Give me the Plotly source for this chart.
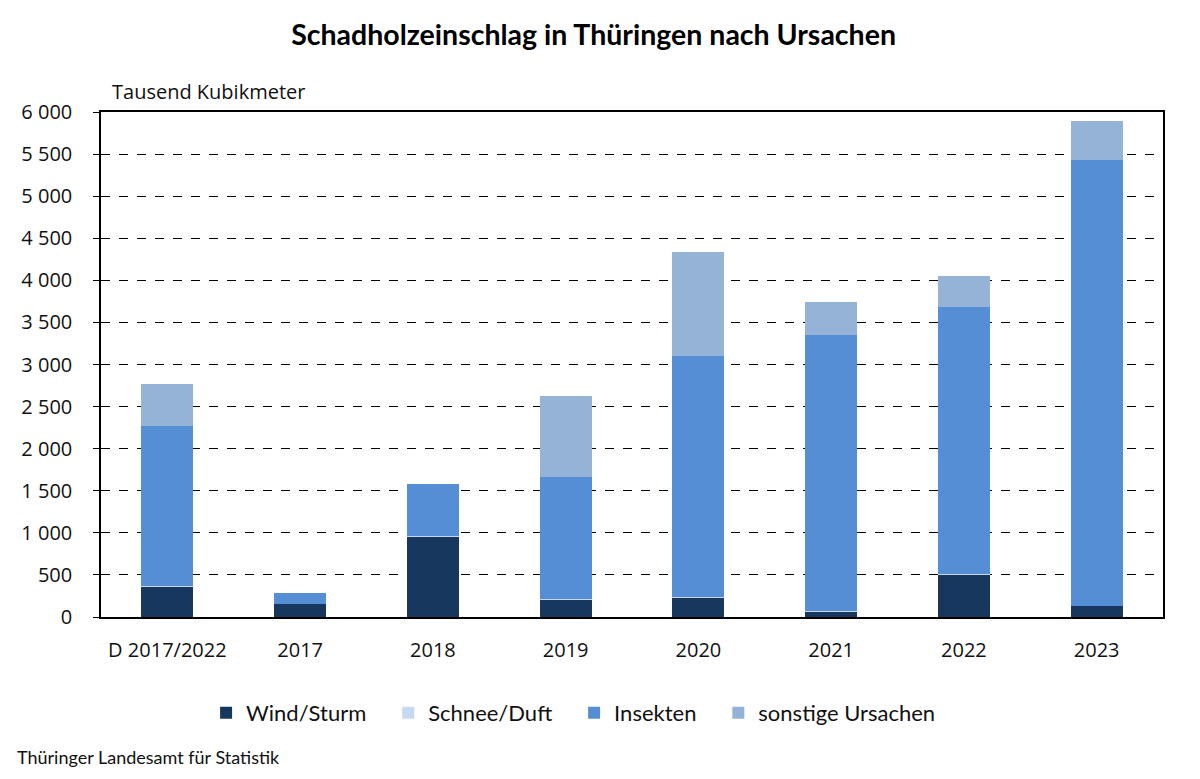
import plotly.graph_objects as go

# Data (Tausend Kubikmeter)
jahre = ["D 2017/2022", "2017", "2018", "2019", "2020", "2021", "2022", "2023"]
wind_sturm = [357, 155, 959, 210, 226, 71, 504, 131]
schnee_duft = [8, 2, 3, 5, 10, 3, 8, 5]
insekten = [1906, 128, 619, 1454, 2860, 3271, 3173, 5293]
sonstige = [495, 0, 0, 951, 1240, 396, 369, 460]

y_ticks = [0, 500, 1000, 1500, 2000, 2500, 3000, 3500, 4000, 4500, 5000, 5500, 6000]

tick_font = dict(family="Open Sans, Noto Sans, sans-serif", size=20, color="#111111")
text_font = "Lato, Open Sans, sans-serif"
pad = "\u00a0" * 3  # extra room between legend entries

fig = go.Figure()
series = [
    ("Wind/Sturm" + pad, wind_sturm, "#17375E"),
    ("Schnee/Duft" + pad, schnee_duft, "#C6D9F1"),
    ("Insekten" + pad, insekten, "#558ED5"),
    ("sonstige Ursachen", sonstige, "#95B3D7"),
]
for name, vals, col in series:
    fig.add_trace(go.Bar(x=jahre, y=vals, name=name, width=0.39,
                         marker=dict(color=col, line=dict(width=0))))

# page body adds 8px offset -> margins shifted accordingly
fig.update_layout(
    barmode="stack",
    width=1200, height=779,
    margin=dict(l=93, r=45, t=104, b=170),
    plot_bgcolor="white", paper_bgcolor="white",
    separators=", ",
    title=dict(text="<b>Schadholzeinschlag in Thüringen nach Ursachen</b>",
               x=0.488, xanchor="center", y=1 - 27 / 779, yanchor="middle",
               font=dict(family=text_font, size=28.5, color="black")),
    legend=dict(orientation="h", x=0.445, xanchor="center", y=-0.19, yanchor="middle",
                font=dict(family=text_font, size=22, color="#111111"),
                traceorder="normal", itemwidth=30),
    showlegend=True,
)

fig.update_xaxes(showline=True, mirror=True, linecolor="black", linewidth=1.5,
                 ticks="", tickfont=tick_font, showgrid=False, ticklabelstandoff=14)
fig.update_yaxes(range=[0, 6000], tickvals=y_ticks, tickformat=",d",
                 showline=True, mirror=True, linecolor="black", linewidth=1.5,
                 ticks="outside", ticklen=6, tickcolor="black", tickwidth=1.2,
                 tickfont=tick_font, showgrid=True, gridcolor="black",
                 griddash="dash", gridwidth=1.3, zeroline=False, ticklabelstandoff=17)

fig.add_annotation(text="Tausend Kubikmeter", xref="paper", yref="paper",
                   x=0.0085, y=(617 - 92) / 505, xanchor="left", yanchor="middle",
                   showarrow=False, font=dict(family="Open Sans, sans-serif", size=20, color="#111111"))
fig.add_annotation(text="Thüringer Landesamt für Statistik", xref="paper", yref="paper",
                   x=(15 - 101) / 1062, y=(617 - 757) / 505, xanchor="left", yanchor="middle",
                   showarrow=False, font=dict(family=text_font, size=18, color="#111111"))

fig.write_html("out.html")
